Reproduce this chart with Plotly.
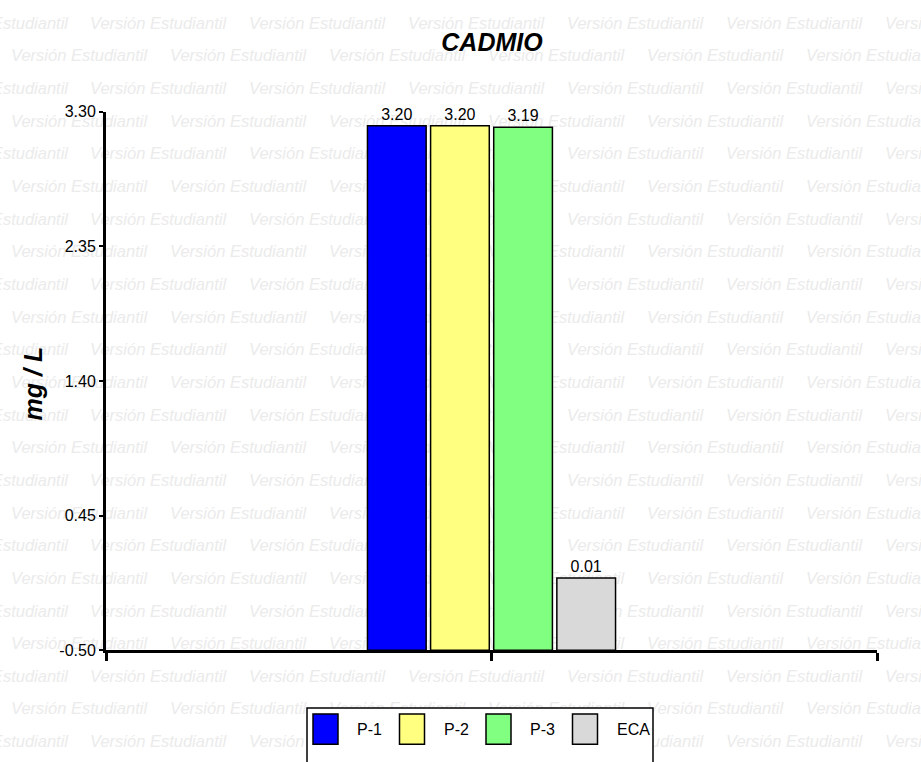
import plotly.graph_objects as go

# ---- data -------------------------------------------------------------
series = ["P-1", "P-2", "P-3", "ECA"]
values = [3.20, 3.20, 3.19, 0.01]
colors = ["#0000FF", "#FFFF80", "#80FF80", "#D9D9D9"]
y_ticks = [-0.50, 0.45, 1.40, 2.35, 3.30]
chart_title = "CADMIO"
y_label = "mg / L"
watermark = "Versión Estudiantil"

# ---- page geometry (pixels) -----------------------------------------
W, H = 921, 762
PLOT_L, PLOT_R, PLOT_T, PLOT_B = 106, 877, 106, 657
y_min, y_max = y_ticks[0], y_ticks[-1]
WM_WIDTH = 137  # rendered width of one watermark string


def fx(x):
    return x / W


def fy(y):
    return 1 - y / H


fig = go.Figure()

# background watermark grid, on a full-page subplot drawn underneath;
# strings that start left of the page are anchored at their right end
wm_x, wm_y, wm_pos = [], [], []
for row in range(23):
    yy = 17 + 33.4 * row
    start = -69 if row % 2 == 0 else 11
    for col in range(7):
        sx = start + 159 * col
        if sx >= W:
            continue
        if sx < 0:
            wm_x.append(sx + WM_WIDTH)
            wm_pos.append("middle left")
        else:
            wm_x.append(sx)
            wm_pos.append("middle right")
        wm_y.append(yy)
fig.add_trace(go.Scatter(
    x=wm_x, y=wm_y, mode="text", text=[watermark] * len(wm_x),
    textposition=wm_pos,
    textfont=dict(family="Arial", size=16.5, color="#ebebeb", style="italic"),
    cliponaxis=False, hoverinfo="skip", showlegend=False,
    xaxis="x", yaxis="y",
))

# bars rise from the bottom of the value axis
for name, v, c in zip(series, values, colors):
    fig.add_trace(go.Bar(
        x=[1], y=[v - y_min], base=y_min, name=name,
        marker=dict(color=c, line=dict(color="black", width=1.5)),
        text=[f"{v:.2f}"], textposition="outside",
        textfont=dict(family="Arial", size=16, color="black"),
        cliponaxis=False, showlegend=False, hoverinfo="skip",
        xaxis="x2", yaxis="y2",
    ))

# hand-built legend box with large swatches
shapes = [dict(type="rect", xref="paper", yref="paper",
               x0=fx(307), x1=fx(653), y0=fy(772), y1=fy(716),
               line=dict(color="black", width=1.5), fillcolor="white",
               layer="above")]
annotations = []
for i, (name, c) in enumerate(zip(series, colors)):
    sx = 313 + 86.5 * i
    shapes.append(dict(type="rect", xref="paper", yref="paper",
                       x0=fx(sx), x1=fx(sx + 25), y0=fy(753), y1=fy(722),
                       line=dict(color="black", width=1.5), fillcolor=c,
                       layer="above"))
    annotations.append(dict(text=name, xref="paper", yref="paper",
                            x=fx(sx + 42), y=fy(738), xanchor="left",
                            yanchor="middle", showarrow=False,
                            font=dict(family="Arial", size=16, color="black")))

annotations.append(dict(text=f"<b><i>{y_label}</i></b>", xref="paper", yref="paper",
                        x=fx(33), y=fy(384), textangle=-90, showarrow=False,
                        xanchor="center", yanchor="middle",
                        font=dict(family="Arial", size=25, color="black")))

fig.update_layout(
    width=W, height=H,
    margin=dict(l=0, r=0, t=0, b=0),
    paper_bgcolor="white", plot_bgcolor="rgba(0,0,0,0)",
    barmode="group", bargap=0.345, bargroupgap=0.07,
    title=dict(text=f"<b><i>{chart_title}</i></b>", x=fx(492), xanchor="center",
               y=fy(42), yanchor="middle",
               font=dict(family="Arial", size=25, color="black")),
    xaxis=dict(domain=[0, 1], range=[0, W], visible=False, fixedrange=True),
    yaxis=dict(domain=[0, 1], range=[H, 0], visible=False, fixedrange=True),
    xaxis2=dict(domain=[fx(PLOT_L), fx(PLOT_R)], range=[0, 2], anchor="y2",
                tickvals=[0, 1, 2], showticklabels=False, ticks="outside",
                ticklen=8, tickwidth=2.5, tickcolor="black",
                showline=True, linewidth=3, linecolor="black",
                showgrid=False, zeroline=False),
    yaxis2=dict(domain=[fy(PLOT_B), fy(PLOT_T)], range=[y_min, y_max], anchor="x2",
                tickvals=y_ticks, ticktext=[f"{t:.2f}" for t in y_ticks],
                ticks="outside", ticklen=4, tickwidth=2, tickcolor="black",
                showline=True, linewidth=3, linecolor="black",
                showgrid=False, zeroline=False,
                tickfont=dict(family="Arial", size=16, color="black")),
    shapes=shapes, annotations=annotations,
    showlegend=False,
)

fig.write_html("out.html")
